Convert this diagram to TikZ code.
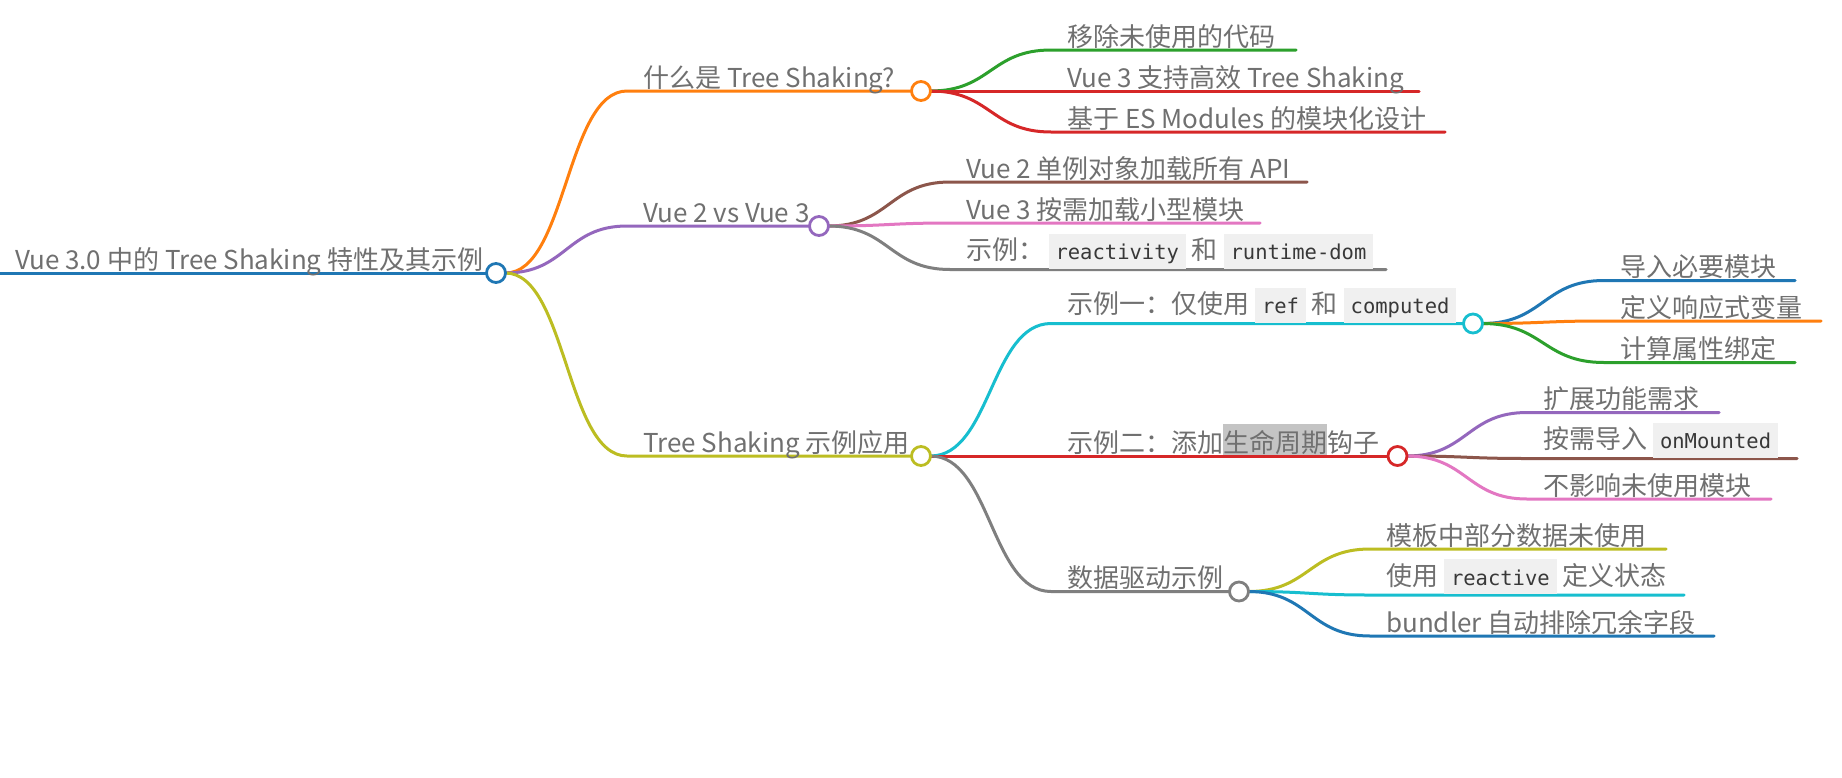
\documentclass[tikz,border=0pt]{standalone}
\usepackage{fontspec}
\setmainfont{Noto Sans CJK SC}
\newfontfamily\codefont{DejaVu Sans Mono}
\usetikzlibrary{calc}
\pgfdeclarelayer{bg}
\pgfsetlayers{bg,main}
\definecolor{cblue}{HTML}{1F77B4}
\definecolor{corange}{HTML}{FF7F0E}
\definecolor{cgreen}{HTML}{2CA02C}
\definecolor{cred}{HTML}{D62728}
\definecolor{cpurple}{HTML}{9467BD}
\definecolor{cbrown}{HTML}{8C564B}
\definecolor{cpink}{HTML}{E377C2}
\definecolor{cgray}{HTML}{7F7F7F}
\definecolor{colive}{HTML}{BCBD22}
\definecolor{ccyan}{HTML}{17BECF}
\definecolor{txt}{HTML}{707070}
\definecolor{codebg}{HTML}{F0F0F0}
\definecolor{codetxt}{HTML}{383838}
\definecolor{markbg}{HTML}{C4C4C4}
\newcommand\codebox[1]{{\setlength{\fboxsep}{0pt}\colorbox{codebg}{\hspace{7pt}\rule[-9pt]{0pt}{35pt}{\codefont\fontsize{20.5}{24}\selectfont\color{codetxt}#1}\hspace{7pt}}}}
\newcommand\markbox[1]{{\setlength{\fboxsep}{0pt}\colorbox{markbg}{\rule[-3pt]{0pt}{31pt}#1}}}
\tikzset{
  lbl/.style={anchor=base west, inner sep=0pt, text=txt, font=\fontsize{26}{30}\selectfont},
  dot/.style={circle, draw=#1, fill=white, line width=2.8pt, minimum size=19pt, inner sep=0pt, outer sep=0pt},
  edge/.style={draw=#1, line width=3pt, line cap=round},
  link/.style={to path={let \p1=(\tikztostart), \p2=(\tikztotarget) in
      .. controls ({0.5*\x1+0.5*\x2},\y1) and ({0.5*\x1+0.5*\x2},\y2) .. (\tikztotarget)}}
}
\begin{document}
\begin{tikzpicture}[x=1pt,y=-1pt]
\useasboundingbox (0,0) rectangle (1842,777);
\begin{pgfonlayer}{bg}
\fill[white] (0,0) rectangle (1842,777);
\end{pgfonlayer}

% ---------- root ----------
\coordinate (r0) at (0,273);
\node[dot=cblue] (R) at (496,273) {};
\node[lbl] (Rt) at (15,269) {Vue 3.0 中的 Tree Shaking 特性及其示例};

% ---------- level 2 ----------
\coordinate (As) at (627,91);
\node[dot=corange] (A) at (921,91) {};
\node[lbl] (At) at (643,87) {什么是 Tree Shaking?};

\coordinate (Bs) at (627,226);
\node[dot=cpurple] (B) at (819,226) {};
\node[lbl] (Bt) at (643,222) {Vue 2 vs Vue 3};

\coordinate (Cs) at (627,456);
\node[dot=colive] (C) at (921,456) {};
\node[lbl] (Ct) at (643,452) {Tree Shaking 示例应用};

% ---------- children of A ----------
\coordinate (A1s) at (1051,50);  \coordinate (A1e) at (1296,50);
\node[lbl] (A1t) at (1067,46) {移除未使用的代码};
\coordinate (A2s) at (1051,91);  \coordinate (A2e) at (1419,91);
\node[lbl] (A2t) at (1067,87) {Vue 3 支持高效 Tree Shaking};
\coordinate (A3s) at (1051,132); \coordinate (A3e) at (1445,132);
\node[lbl] (A3t) at (1067,128) {基于 ES Modules 的模块化设计};

% ---------- children of B ----------
\coordinate (B1s) at (950,182);  \coordinate (B1e) at (1307,182);
\node[lbl] (B1t) at (966,178) {Vue 2 单例对象加载所有 API};
\coordinate (B2s) at (950,223);  \coordinate (B2e) at (1260,223);
\node[lbl] (B2t) at (966,219) {Vue 3 按需加载小型模块};
\coordinate (B3s) at (950,269.5); \coordinate (B3e) at (1386,269.5);
\node[lbl] (B3t) at (966,259.5) {示例：\,\codebox{reactivity} 和 \codebox{runtime-dom}};

% ---------- children of C ----------
\coordinate (C1s) at (1051,323.5);
\node[dot=ccyan] (C1) at (1473,323.5) {};
\node[lbl] (C1t) at (1067,313.5) {示例一：仅使用 \codebox{ref} 和 \codebox{computed}};

\coordinate (C2s) at (1051,456);
\node[dot=cred] (C2) at (1397.5,456) {};
\node[lbl] (C2t) at (1067,452) {示例二：添加\markbox{生命周期}钩子};

\coordinate (C3s) at (1051,591.5);
\node[dot=cgray] (C3) at (1239,591.5) {};
\node[lbl] (C3t) at (1067,587.5) {数据驱动示例};

% ---------- children of C1 ----------
\coordinate (C11s) at (1604,280.5); \coordinate (C11e) at (1795,280.5);
\node[lbl] (C11t) at (1620,276.5) {导入必要模块};
\coordinate (C12s) at (1604,321);   \coordinate (C12e) at (1821,321);
\node[lbl] (C12t) at (1620,317) {定义响应式变量};
\coordinate (C13s) at (1604,362.5); \coordinate (C13e) at (1795,362.5);
\node[lbl] (C13t) at (1620,358.5) {计算属性绑定};

% ---------- children of C2 ----------
\coordinate (C21s) at (1527,412.5); \coordinate (C21e) at (1719,412.5);
\node[lbl] (C21t) at (1543,408.5) {扩展功能需求};
\coordinate (C22s) at (1527,458.5); \coordinate (C22e) at (1797,458.5);
\node[lbl] (C22t) at (1543,448.5) {按需导入 \codebox{onMounted}};
\coordinate (C23s) at (1527,499);   \coordinate (C23e) at (1771,499);
\node[lbl] (C23t) at (1543,495) {不影响未使用模块};

% ---------- children of C3 ----------
\coordinate (C31s) at (1370,549);   \coordinate (C31e) at (1666,549);
\node[lbl] (C31t) at (1386,545) {模板中部分数据未使用};
\coordinate (C32s) at (1370,595);   \coordinate (C32e) at (1684,595);
\node[lbl] (C32t) at (1386,585) {使用 \codebox{reactive} 定义状态};
\coordinate (C33s) at (1370,636);   \coordinate (C33e) at (1714,636);
\node[lbl] (C33t) at (1386,632) {bundler 自动排除冗余字段};

% ---------- connectors ----------
\begin{pgfonlayer}{bg}
\draw[edge=cblue] (r0) -- (R.center);

\draw[edge=corange] (R.east) to[link] (As) -- (A.center);
\draw[edge=cpurple] (R.east) to[link] (Bs) -- (B.center);
\draw[edge=colive] (R.east) to[link] (Cs) -- (C.center);

\draw[edge=cgreen] (A.east) to[link] (A1s) -- (A1e);
\draw[edge=cred] (A.east) to[link] (A2s) -- (A2e);
\draw[edge=cred] (A.east) to[link] (A3s) -- (A3e);

\draw[edge=cbrown] (B.east) to[link] (B1s) -- (B1e);
\draw[edge=cpink] (B.east) to[link] (B2s) -- (B2e);
\draw[edge=cgray] (B.east) to[link] (B3s) -- (B3e);

\draw[edge=ccyan] (C.east) to[link] (C1s) -- (C1.center);
\draw[edge=cred] (C.east) to[link] (C2s) -- (C2.center);
\draw[edge=cgray] (C.east) to[link] (C3s) -- (C3.center);

\draw[edge=cblue] (C1.east) to[link] (C11s) -- (C11e);
\draw[edge=corange] (C1.east) to[link] (C12s) -- (C12e);
\draw[edge=cgreen] (C1.east) to[link] (C13s) -- (C13e);

\draw[edge=cpurple] (C2.east) to[link] (C21s) -- (C21e);
\draw[edge=cbrown] (C2.east) to[link] (C22s) -- (C22e);
\draw[edge=cpink] (C2.east) to[link] (C23s) -- (C23e);

\draw[edge=colive] (C3.east) to[link] (C31s) -- (C31e);
\draw[edge=ccyan] (C3.east) to[link] (C32s) -- (C32e);
\draw[edge=cblue] (C3.east) to[link] (C33s) -- (C33e);
\end{pgfonlayer}
\end{tikzpicture}
\end{document}
